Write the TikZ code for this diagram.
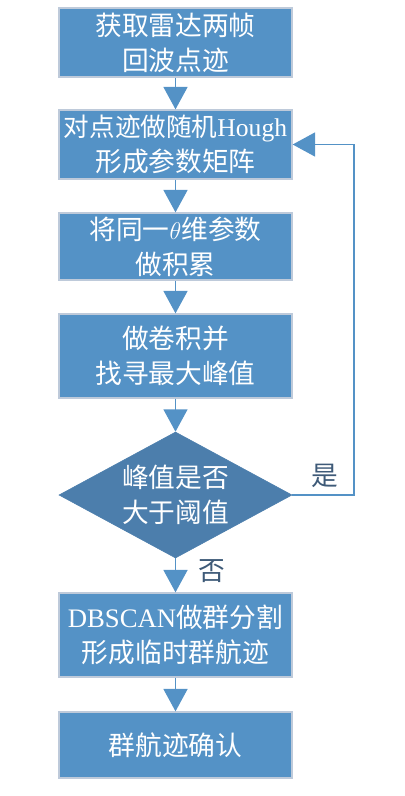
\documentclass[tikz,border=0pt]{standalone}
\usepackage{fontspec}
\setmainfont{Liberation Serif}
\newfontfamily\cjk{Noto Sans CJK SC}
\usetikzlibrary{shapes.geometric,arrows.meta,positioning}
\definecolor{boxblue}{RGB}{84,146,198}
\definecolor{diablue}{RGB}{76,126,172}
\definecolor{edgegrey}{RGB}{190,202,218}
\definecolor{lineblue}{RGB}{84,146,198}
\definecolor{lblgrey}{RGB}{62,90,120}
\begin{document}
\begin{tikzpicture}[x=0.025cm, y=-0.025cm,
    stepbox/.style={rectangle, draw=edgegrey, line width=0.9pt, fill=boxblue, text=white,
        minimum width=5.825cm, inner xsep=0pt, inner ysep=0pt, align=center,
        font=\cjk\fontsize{19}{24.9}\selectfont},
    decbox/.style={diamond, draw=diablue, fill=diablue, text=white, shape aspect=1.85,
        minimum width=5.825cm, minimum height=3.15cm, inner sep=0pt, align=center,
        font=\cjk\fontsize{19}{24.9}\selectfont},
    flow/.style={draw=lineblue, line width=1pt, -{Triangle[width=0.6cm,length=0.56cm]}},
    lbl/.style={text=lblgrey, font=\cjk\fontsize{19}{24.9}\selectfont}]
    \useasboundingbox (0,0) rectangle (404,796);

    \node[stepbox, minimum height=1.725cm] (get) at (175.5,42.5) {获取雷达两帧\\回波点迹};
    \node[stepbox, minimum height=1.725cm] (hough) at (175.5,144.5) {{\fontsize{18.2}{24.9}\selectfont 对点迹做随机{\rmfamily Hough}}\\形成参数矩阵};
    \node[stepbox, minimum height=1.675cm] (acc) at (175.5,246.5) {将同一$\theta$维参数\\做积累};
    \node[stepbox, minimum height=2.1cm] (conv) at (175.5,356) {做卷积并\\找寻最大峰值};
    \node[decbox] (dec) at (175.5,495) {峰值是否\\大于阈值};
    \node[stepbox, minimum height=2.1cm] (dbscan) at (175.5,635) {{\rmfamily DBSCAN}做群分割\\形成临时群航迹};
    \node[stepbox, minimum height=1.65cm] (confirm) at (175.5,745) {群航迹确认};

    \draw[flow] (get) -- (hough);
    \draw[flow] (hough) -- (acc);
    \draw[flow] (acc) -- (conv);
    \draw[flow] (conv) -- (dec);
    \draw[flow] (dec) -- (dbscan);
    \draw[flow] (dbscan) -- (confirm);

    % loop back when the peak is large enough
    \coordinate (turn) at (354,495);
    \draw[flow] (dec.east) -- (turn) |- (hough.east);

    \node[lbl] (yes) at (325,476) {是};
    \node[lbl] (no) at (212,571) {否};
\end{tikzpicture}
\end{document}
